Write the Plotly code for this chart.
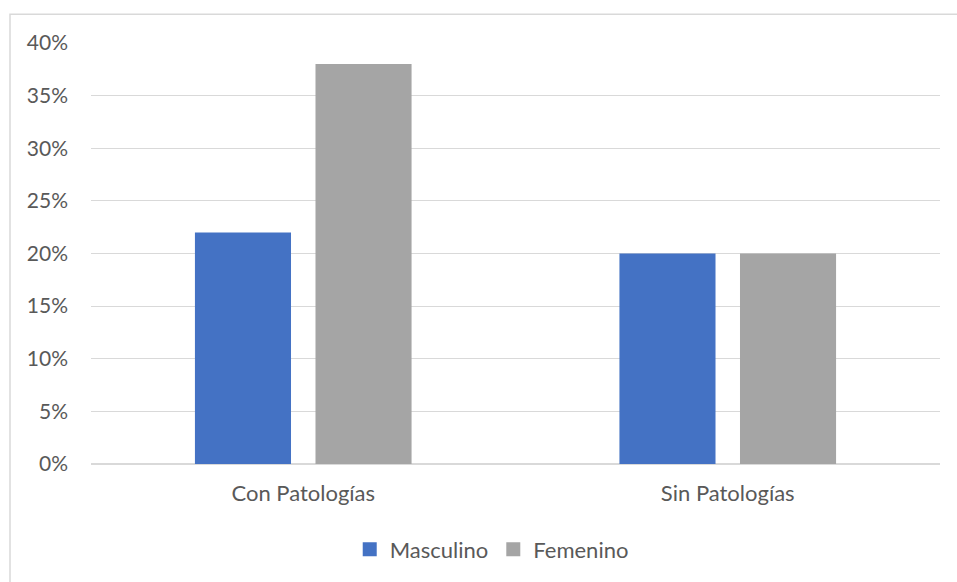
import plotly.graph_objects as go

categories = ["Con Patologías", "Sin Patologías"]
masculino = [0.22, 0.20]
femenino = [0.38, 0.20]
y_ticks = [0, 0.05, 0.10, 0.15, 0.20, 0.25, 0.30, 0.35, 0.40]

font_family = "Lato, 'Open Sans', sans-serif"
text_color = "#595959"
grid_color = "#d9d9d9"
colors = {"Masculino": "#4472c4", "Femenino": "#a5a5a5"}

fig = go.Figure()
for name, vals in (("Masculino", masculino), ("Femenino", femenino)):
    fig.add_trace(go.Bar(name=name, x=categories, y=vals, showlegend=False,
                         marker=dict(color=colors[name], line=dict(width=0))))
# square legend keys
for name in ("Masculino", "Femenino"):
    fig.add_trace(go.Scatter(name=name, x=[None], y=[None], mode="markers",
                             marker=dict(symbol="square", size=14, color=colors[name])))

fig.update_layout(
    width=957, height=582,
    margin=dict(l=91, r=17, t=43, b=116),
    paper_bgcolor="white", plot_bgcolor="white",
    barmode="group", bargap=0.432, bargroupgap=0.203,
    font=dict(family=font_family, size=22, color=text_color),
    showlegend=True,
    legend=dict(orientation="h", x=0.472, xanchor="center", y=-0.203, yanchor="middle",
                font=dict(size=22, color=text_color), itemwidth=30,
                itemclick=False, tracegroupgap=0),
    xaxis=dict(showgrid=False, showline=False, ticks="", ticklabelstandoff=14,
               tickfont=dict(size=22), automargin=False),
    yaxis=dict(range=[0, 0.40], tickvals=y_ticks, tickformat=".0%",
               showgrid=True, gridcolor=grid_color, gridwidth=1,
               zeroline=True, zerolinecolor=grid_color, zerolinewidth=1.5,
               showline=False, ticks="", ticklabelstandoff=22,
               tickfont=dict(size=21), automargin=False),
    shapes=[dict(type="rect", xref="paper", yref="paper",
                 x0=-81 / 849, x1=1.1, y0=-0.4, y1=1 + 29 / 423,
                 line=dict(color=grid_color, width=1.5), layer="below")],
)

fig.write_html("out.html")
